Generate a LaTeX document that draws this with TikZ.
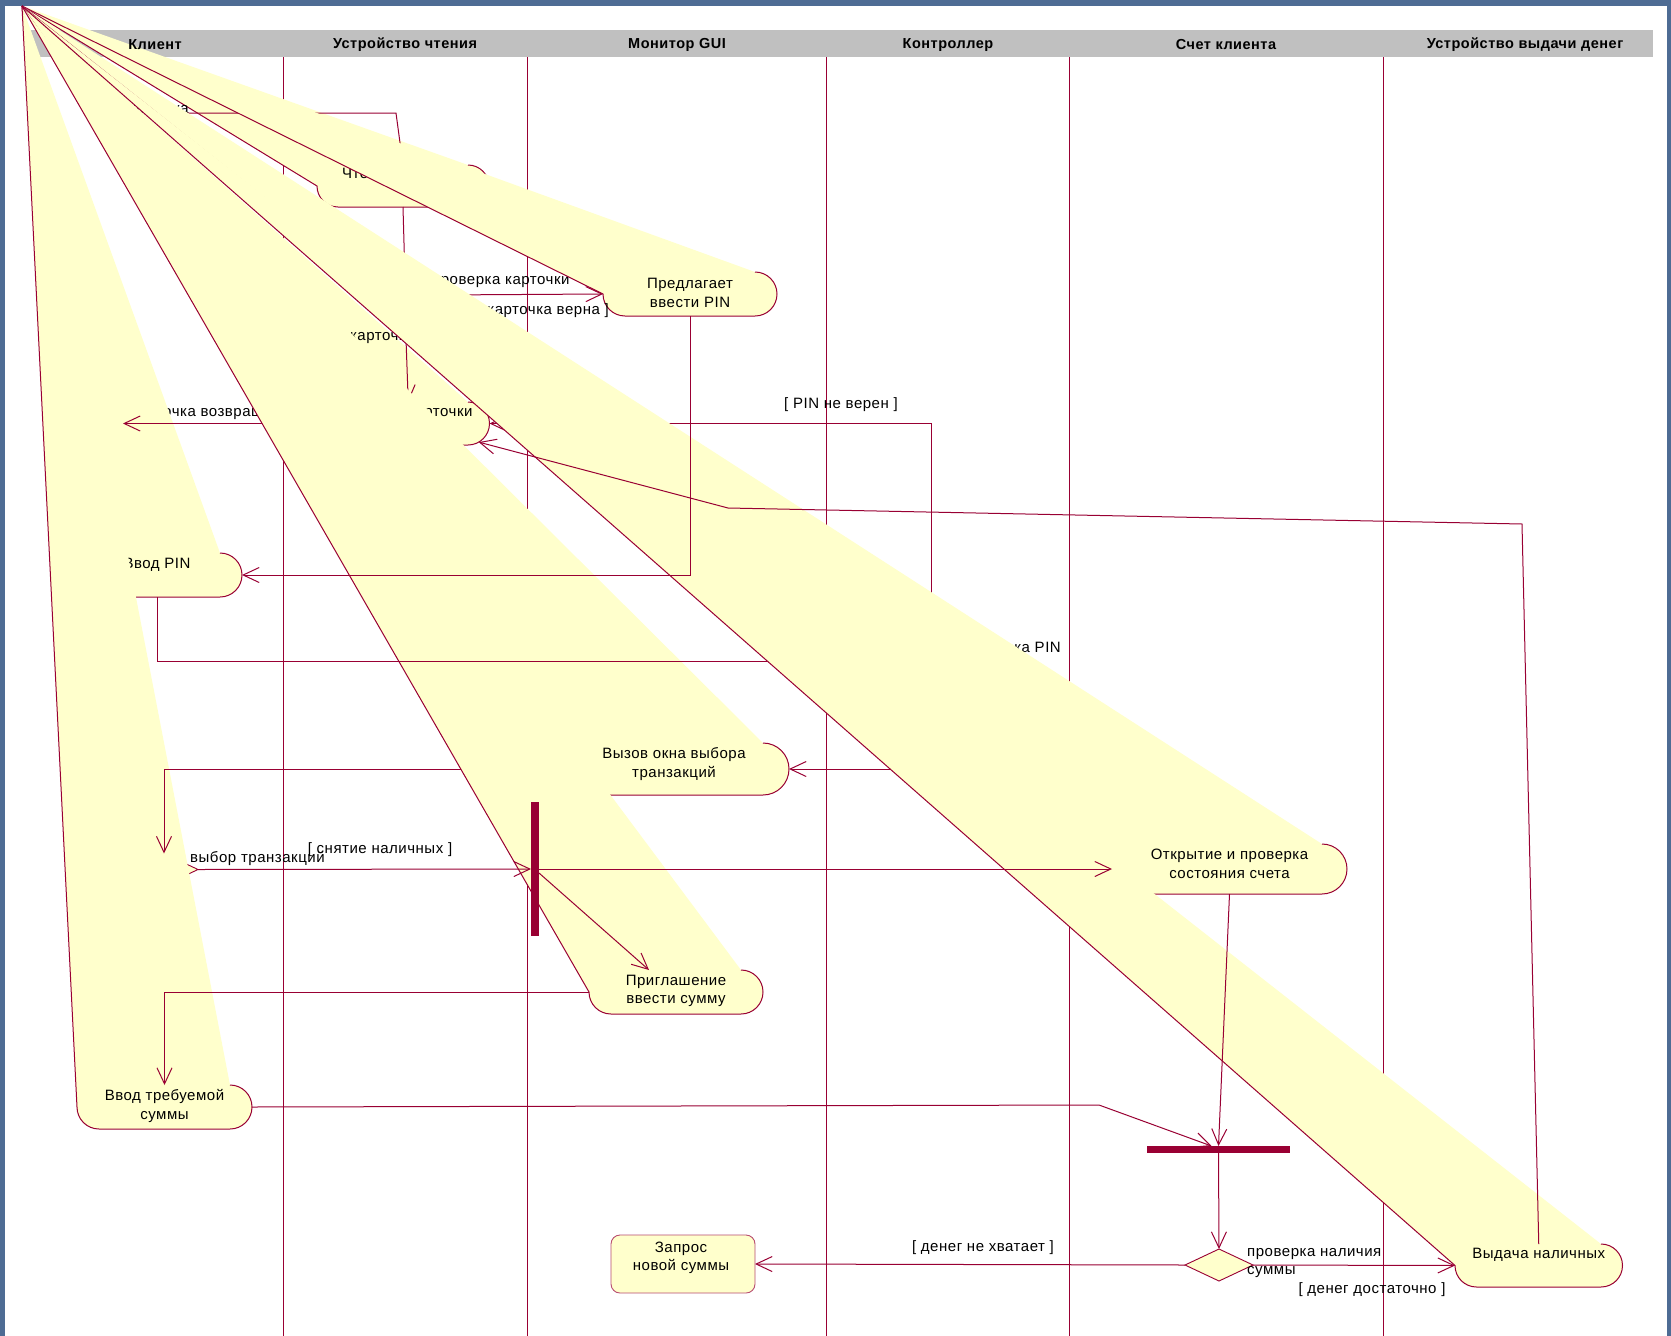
\documentclass[tikz,border=0pt]{standalone}
\usepackage{fontspec}
\setmainfont{Liberation Sans}[LetterSpace=3.5]
\usetikzlibrary{arrows.meta, shapes.geometric, calc}
\definecolor{roseline}{RGB}{153,0,51}
\definecolor{actyellow}{RGB}{255,255,204}
\definecolor{headgray}{RGB}{192,192,192}
\definecolor{framecol}{RGB}{78,108,148}

% activity: name, left x, cap x, top y, bottom y, text y, text
\newcommand{\actshape}[7]{%
  \pgfmathsetmacro\actR{(#5-#4)/2}%
  \pgfmathsetmacro\actYc{(#4+#5)/2}%
  \pgfmathsetmacro\actXm{(#2+#3+\actR)/2}%
  \pgfmathsetmacro\actXa{#2+\actR}%
  \pgfmathsetmacro\actXe{#3+\actR}%
  \pgfmathsetmacro\actXs{#3+0.5*\actR}%
  \pgfmathsetmacro\actYs{\actYc+0.866*\actR}%
  \coordinate (#1-w) at (#2,\actYc);
  \coordinate (#1-e) at (\actXe,\actYc);
  \coordinate (#1-n) at (\actXm,#4);
  \coordinate (#1-s) at (\actXm,#5);
  \coordinate (#1-se) at (\actXs,\actYs);
  \fill[actfill] (apex) -- (#3,#4) arc[start angle=-90, end angle=90, radius=\actR]
    -- (\actXa,#5) arc[start angle=90, end angle=180, radius=\actR] -- cycle;
  \draw[actline] (#3,#4) arc[start angle=-90, end angle=90, radius=\actR]
    -- (\actXa,#5) arc[start angle=90, end angle=180, radius=\actR] -- (apex);
  \node[acttext] (#1) at (\actXm,#6) {#7};
}

\begin{document}
\begin{tikzpicture}[x=1pt, y=-1pt,
    acttext/.style={font=\fontsize{15}{18.5}\selectfont, align=center, inner sep=0pt, yshift=-2pt},
    lbl/.style={font=\fontsize{15}{18.5}\selectfont, inner sep=0pt, yshift=-2pt},
    title/.style={font=\fontsize{14.5}{17}\selectfont\bfseries, inner sep=0pt, yshift=-2pt},
    actfill/.style={fill=actyellow},
    actline/.style={draw=roseline, line width=1pt},
    laneline/.style={draw=roseline, line width=0.8pt},
    conn/.style={draw=roseline, line width=1pt},
    arr/.style={conn, -{Straight Barb[length=16pt, width=15pt]}},
    bar/.style={fill=roseline, inner sep=0pt, outer sep=0pt},
    decision/.style={diamond, draw=roseline, fill=actyellow, line width=0.9pt,
                     minimum width=68pt, minimum height=32pt, inner sep=0pt, outer sep=0pt},
    reqbox/.style={draw=roseline!70, fill=actyellow, rounded corners=9pt, line width=0.9pt,
                   minimum width=144pt, minimum height=58pt, inner sep=0pt, outer sep=0pt}
]

% Рамка и дорожки
\useasboundingbox (0,0) rectangle (1671,1336);
\fill[framecol] (0,0) rectangle (1671,1336);
\fill[white] (5,6) rectangle (1667,1336);
\fill[headgray] (23.5,30) rectangle (1653,57);
\foreach \lx in {283.5, 527, 826, 1069, 1383}
    \draw[laneline] (\lx,57) -- (\lx,1336);

\coordinate (apex) at (22,6);
\coordinate (cardin)   at (150,113);
\coordinate (cardbend) at (396,113);
\coordinate (chk-n) at (405,279);
\coordinate (chk-s) at (405,311);
\coordinate (chk-e) at (439,295);
\coordinate (pin-n) at (931,645);
\coordinate (pin-s) at (931,677);
\coordinate (pin-w) at (897,661);
\coordinate (fin)   at (123,423.5);

% Чтение карточки
\actshape{chten}{317}{468}{165}{207}{173}{Чтение карточки}
\node[lbl, anchor=east] (lblin) at (189,109) {карточка};
\draw[arr] (cardin) -- (cardbend) -- (chten-n);
\node[lbl, anchor=west] (lblchk) at (432,280) {проверка карточки};

% Предлагает ввести PIN
\actshape{pred}{603}{755}{272}{316}{291}{Предлагает\\ввести PIN}
\draw[arr] (chk-e) -- (pred-w);
\node[lbl, anchor=east] (lblok) at (609,309) {[ карточка верна ]};

% Возврат карточки
\actshape{vozv}{327}{468}{402}{445}{411}{Возврат карточки}
\draw[conn] (chten-s) -- (chk-n);
\draw[arr] (chk-s) -- (vozv-n);
\node[lbl, anchor=west] (lblbad) at (341,335) {[ карточка неверна ]};
\draw[arr] (pin-n) |- (vozv-e);
\node[lbl] (lblpinbad) at (841,403) {[ PIN не верен ]};
\node[lbl, anchor=west] (lblret) at (131,412) {карточка возвращена};

% Ввод PIN
\actshape{vpin}{72}{220}{553}{597}{563}{Ввод PIN}
\draw[arr] (vozv-w) -- (fin);
\node[decision] (vybor) at (164,869.5) {};
\node[lbl, anchor=west] (lblvybor) at (190,856) {выбор транзакций};

% Ввод требуемой суммы, Вызов окна, Приглашение
\actshape{vsum}{77}{230}{1085}{1129}{1104}{Ввод требуемой\\суммы}
\actshape{vyzov}{559}{763}{743}{795}{762}{Вызов окна выбора\\транзакций}
\draw[arr] (vyzov-w) -| (vybor.north);
\actshape{prigl}{589}{741}{970}{1014}{989}{Приглашение\\ввести сумму}
\draw[arr] (vpin-s) |- (pin-w);
\draw[arr] (pin-s) |- (vyzov-e);
\node[lbl, anchor=east] (lblpin) at (1061,647) {Проверка PIN};

% Открытие счета, Выдача наличных
\actshape{otkr}{1112}{1322}{844}{894}{862}{Открытие и проверка\\состояния счета}
\actshape{vyd}{1455}{1601}{1244}{1287}{1253}{Выдача наличных}

% Переходы поверх
\draw[arr] (pred-s) |- (vpin-e);
\node[bar, minimum width=8pt, minimum height=134pt] (fork) at (535,869) {};
\draw[arr] (vybor.east) -- (fork.west);
\node[lbl] (lblcash) at (380,848) {[ снятие наличных ]};
\draw[arr] (fork.east) -- (otkr-w);
\draw[arr] ($(fork.east)+(0,4)$) -- ($(prigl-n)+(-27,0)$);
\draw[arr] (prigl-w) -| (vsum-n);

\node[bar, minimum width=143pt, minimum height=7pt] (join) at (1218.5,1149.5) {};
\coordinate (sumbend) at (1099,1105);
\draw[arr] (vsum-e) -- (sumbend) -- ($(join.north)+(-7,0)$);
\draw[arr] (otkr-s) -- (join.north);

\node[decision] (dec) at (1219,1265) {};
\draw[arr] (join.south) -- (dec.north);
\node[lbl, anchor=west, align=left] (lbldec) at (1247,1261) {проверка наличия\\суммы};
\node[reqbox] (zapros) at (683,1264) {};
\node[acttext] (zapros-txt) at (681,1256) {Запрос\\новой суммы};
\draw[arr] (dec.west) -- (zapros.east);
\node[lbl] (lblnomoney) at (983,1246) {[ денег не хватает ]};
\draw[arr] (dec.east) -- (vyd-w);
\node[lbl] (lblmoney) at (1372,1288) {[ денег достаточно ]};

\coordinate (ret1) at (1522,524);
\coordinate (ret2) at (728,508);
\draw[arr] (vyd-n) -- (ret1) -- (ret2) -- (vozv-se);

% Заголовки дорожек
\node[title] (lane1) at (155,43)  {Клиент};
\node[title] (lane2) at (405,43)  {Устройство чтения};
\node[title] (lane3) at (677,43)  {Монитор GUI};
\node[title] (lane4) at (948,43)  {Контроллер};
\node[title] (lane5) at (1226,43) {Счет клиента};
\node[title] (lane6) at (1525,43) {Устройство выдачи денег};

\end{tikzpicture}
\end{document}
